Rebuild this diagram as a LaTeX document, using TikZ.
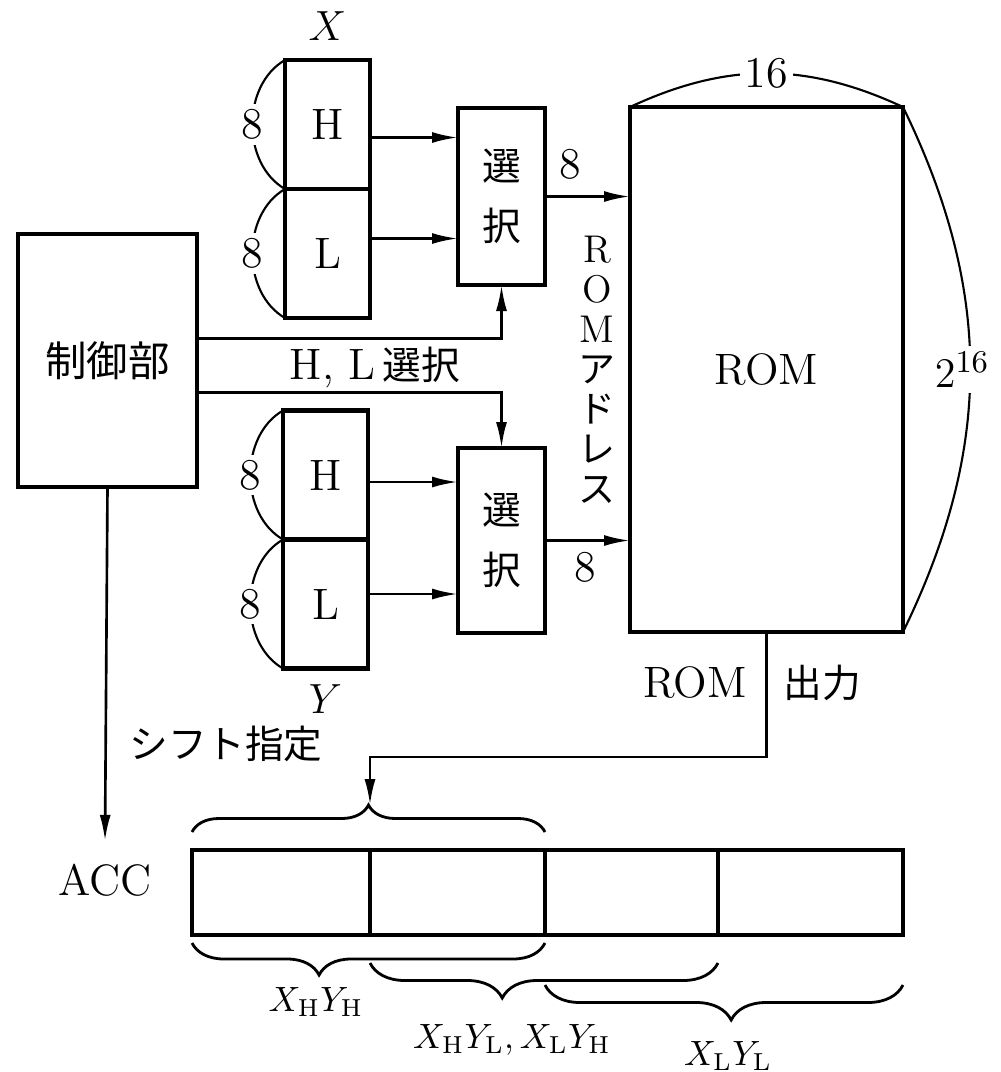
\documentclass[tikz,border=0pt]{standalone}
\usepackage{fontspec}
\newfontfamily\jpfont{Noto Sans CJK JP}
\usetikzlibrary{arrows.meta,positioning,calc,decorations.pathreplacing}
\newcommand\tightstack{\fontsize{11}{11.4}\selectfont\lineskiplimit=-20pt\relax}
\newcommand\kana[1]{{\jpfont\fontsize{10.5}{11.4}\selectfont #1}}
\begin{document}
\begin{tikzpicture}[
  x=0.1mm,y=-0.1mm,
  every node/.style={font=\fontsize{12.5}{15}\selectfont,inner sep=0pt,outer sep=0pt},
  jp/.style={font=\jpfont\fontsize{11}{13}\selectfont},
  bx/.style={draw,line width=1.15pt,align=center},
  reg/.style={bx,minimum width=8.5mm,minimum height=12.9mm},
  sel/.style={bx,minimum width=8.7mm,font=\jpfont\fontsize{11}{17}\selectfont},
  cell/.style={draw,line width=1.1pt,minimum height=8.5mm},
  arrow/.style={-{Latex[length=2.6mm,width=1.1mm]},line width=0.75pt},
  span/.style={line width=0.6pt},
  brc/.style={decorate,line width=0.8pt,decoration={brace,amplitude=#1}},
  cut/.style={fill=white,inner sep=1.5pt},
  prod/.style={font=\fontsize{10}{12}\selectfont}
]
\useasboundingbox (0,0) rectangle (1001,1072);

% control unit and operand registers
\node[bx,minimum width=17.9mm,minimum height=25.3mm,font=\jpfont\fontsize{11.8}{14}\selectfont] (ctrl) at (107.5,360.5) {制御部};
\node[reg] (xh) at (327.5,124.5) {H};
\node[reg,below=0pt of xh] (xl) {L};
\node[reg] (yh) at (325.5,475) {H};
\node[reg,below=0pt of yh] (yl) {L};
\node[above=2mm of xh] (xname) {$X$};
\node[below=1.6mm of yl] (yname) {$Y$};

\node[sel,minimum height=17.7mm] (selx) at (501.5,196.5) {選\\択};
\node[sel,minimum height=18.5mm] (sely) at (501.5,540.5) {選\\択};
\node[bx,minimum width=27.3mm,minimum height=52.5mm] (rom) at (766.5,369.5) {ROM};
\node[anchor=north,align=center,font=\tightstack] (addr) at (597,236)
  {R\\O\\M\\\kana{ア}\\\kana{ド}\\\kana{レ}\\\kana{ス}};

% bit widths
\draw[span] (xh.north west) to[bend right=60] node[cut]{8} (xh.south west);
\draw[span] (xl.north west) to[bend right=60] node[cut]{8} (xl.south west);
\draw[span] (yh.north west) to[bend right=60] node[cut]{8} (yh.south west);
\draw[span] (yl.north west) to[bend right=60] node[cut]{8} (yl.south west);
\draw[span] (rom.north west) to[bend left=25] node[cut]{16} (rom.north east);
\draw[span] (rom.north east) to[bend left=26] node[cut,xshift=-0.8mm]{$2^{16}$} (rom.south east);

% data paths
\coordinate (xho) at ([yshift=-1.3mm]xh.east);
\coordinate (xlo) at ([yshift=1.5mm]xl.east);
\coordinate (yho) at ([yshift=-0.7mm]yh.east);
\coordinate (ylo) at ([yshift=1mm]yl.east);
\draw[arrow] (xho) -- (xho -| selx.west);
\draw[arrow] (xlo) -- (xlo -| selx.west);
\draw[arrow] (yho) -- (yho -| sely.west);
\draw[arrow] (ylo) -- (ylo -| sely.west);
\draw[arrow] (selx.east) -- (selx.east -| rom.west) node[pos=0.3,above=1.7mm]{8};
\draw[arrow] (sely.east) -- (sely.east -| rom.west) node[pos=0.47,below=1.2mm]{8};

% control lines
\draw[arrow] ([yshift=2.2mm]ctrl.east) -| (selx.south);
\draw[arrow] ([yshift=-3.2mm]ctrl.east) -| (sely.north);
\node (hlsel) at (375,367) {H, L\,{\jpfont\fontsize{11}{13}\selectfont 選択}};

% accumulator
\node[cell,minimum width=17.8mm] (r1) at (281,892.5) {};
\node[cell,minimum width=17.5mm,right=0pt of r1] (r2) {};
\node[cell,minimum width=17.3mm,right=0pt of r2] (r3) {};
\node[cell,minimum width=18.5mm,right=0pt of r3] (r4) {};
\node (acc) at (105,880) {ACC};
\node[jp] (shift) at (226,744) {シフト指定};
\draw[arrow] (ctrl.south) -- ([yshift=2.3mm]acc.north);

\node (romout) at (695,682) {ROM};
\node[jp] (out) at (822,683) {出力};
\coordinate (tip) at ([yshift=4.5mm]r1.north east);
\draw[arrow] (rom.south) -- ++(0,125) -| (tip);

% partial products
\draw[brc=2.7mm,decoration={raise=1.8mm}] (r1.north west) -- (r2.north east);
\draw[brc=3.2mm,decoration={raise=0.8mm,aspect=0.64}] (r2.south east) -- (r1.south west);
\draw[brc=3.5mm,decoration={raise=2.8mm,aspect=0.62}] (r3.south east) -- (r2.south west);
\draw[brc=3.5mm,decoration={raise=5mm,aspect=0.48}] (r4.south east) -- (r3.south west);
\node[prod] (hh) at (316,1002) {$X_{\mathrm{H}}Y_{\mathrm{H}}$};
\node[prod] (hl) at (512,1040) {$X_{\mathrm{H}}Y_{\mathrm{L}},X_{\mathrm{L}}Y_{\mathrm{H}}$};
\node[prod] (ll) at (728,1056) {$X_{\mathrm{L}}Y_{\mathrm{L}}$};
\end{tikzpicture}
\end{document}
